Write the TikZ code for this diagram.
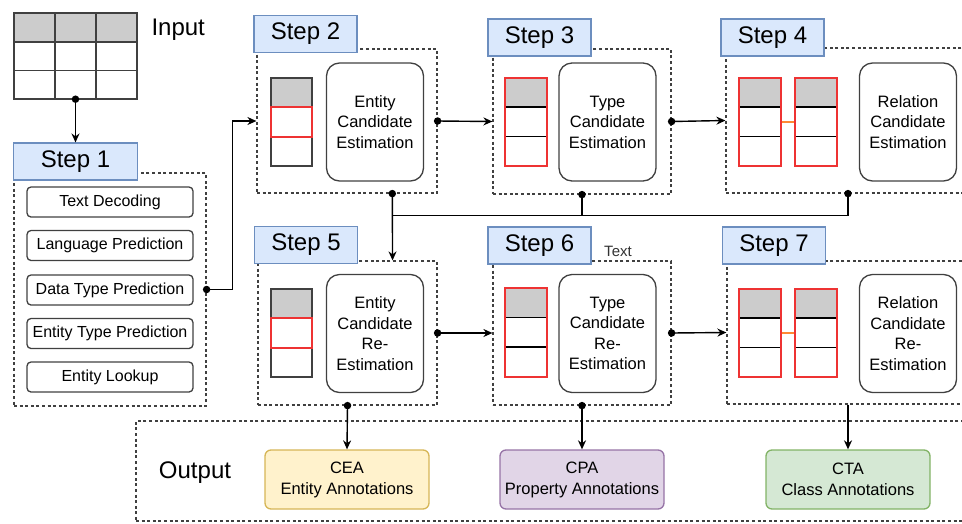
\documentclass[tikz,border=0pt]{standalone}
\usepackage{fontspec}
\setmainfont{Liberation Sans}
\usetikzlibrary{arrows.meta,calc}
\definecolor{stepfill}{HTML}{DAE8FC}
\definecolor{stepline}{HTML}{6C8EBF}
\definecolor{ceafill}{HTML}{FFF2CC}
\definecolor{cealine}{HTML}{D6B656}
\definecolor{cpafill}{HTML}{E1D5E7}
\definecolor{cpaline}{HTML}{9673A6}
\definecolor{ctafill}{HTML}{D5E8D4}
\definecolor{ctaline}{HTML}{82B366}
\definecolor{headgray}{HTML}{CCCCCC}
\definecolor{cellred}{HTML}{EE3333}
\definecolor{linkorange}{HTML}{FF8833}
\definecolor{inktext}{HTML}{222222}

% one column of a table with the selected cell outlined in red
\newcommand{\entitycol}[2]{%
  \fill[headgray] (#1,#2) rectangle ++(41,29.3);
  \draw[colframe] (#1,#2) rectangle ++(41,88);
  \draw[colframe] (#1,#2+29.3) -- ++(41,0);
  \draw[colframe] (#1,#2+58.7) -- ++(41,0);
  \draw[redframe] (#1,#2+29.3) rectangle ++(41,29.4);
}
% one column of a table, the whole column outlined in red
\newcommand{\typecol}[2]{%
  \fill[headgray] (#1,#2) rectangle ++(42,29.5);
  \draw[thin line] (#1,#2+29.5) -- ++(42,0);
  \draw[thin line] (#1,#2+59) -- ++(42,0);
  \draw[redframe] (#1,#2) rectangle ++(42,88.5);
}

\begin{document}
\begin{tikzpicture}[x=1pt,y=-1pt,
  font=\color{inktext},
  steplabel/.style={draw=stepline,fill=stepfill,line width=1.1pt,
    minimum width=103pt,minimum height=37pt,inner sep=0pt,
    font=\fontsize{24}{28}\selectfont},
  frame/.style={draw=black!75,dashed,dash pattern=on 3pt off 2.6pt,
    line width=1.2pt},
  taskbox/.style={draw=black!75,line width=1.3pt,rounded corners=4pt,
    minimum width=166pt,minimum height=30pt,inner sep=0pt,
    font=\fontsize{16}{18}\selectfont},
  procbox/.style={draw=black!75,line width=1.3pt,rounded corners=13pt,
    minimum width=97pt,minimum height=118pt,inner sep=0pt,align=center,
    font=\fontsize{16.5}{20.5}\selectfont},
  outbox/.style={line width=1.3pt,rounded corners=6pt,
    minimum width=164pt,minimum height=59pt,inner sep=0pt,align=center,
    font=\fontsize{16.5}{21}\selectfont},
  colframe/.style={draw=black!75,line width=1.4pt},
  redframe/.style={draw=cellred,line width=2pt},
  thin line/.style={draw=black,line width=1.2pt},
  link/.style={draw=black,line width=1.4pt,-{Stealth[length=9pt,width=8pt]}},
  plain link/.style={draw=black,line width=1.4pt},
  dot/.style={circle,fill=black,inner sep=0pt,minimum size=7.5pt},
]
\useasboundingbox (0,0) rectangle (962,523);
\clip (0,0) rectangle (962,523);

% ---------- input table ----------
\fill[headgray] (14,13) rectangle (137,42);
\foreach \gx in {55,96}
  \draw[colframe] (\gx,13) -- (\gx,99);
\foreach \gy in {42,70.5}
  \draw[colframe] (14,\gy) -- (137,\gy);
\draw[colframe] (14,13) rectangle (137,99);
\node[inner sep=0pt,minimum width=123pt,minimum height=86pt] (input) at (75.5,56) {};
\node[font=\fontsize{24}{28}\selectfont,anchor=west] (inputlab) at (148,30) {Input};

% ---------- dashed step frames ----------
\node[frame,minimum width=192pt,minimum height=233pt] (s1frame) at (110,289.5) {};
\node[frame,minimum width=180pt,minimum height=144pt] (s2frame) at (347,121) {};
\node[frame,minimum width=178pt,minimum height=145pt] (s3frame) at (582,121.5) {};
\node[frame,minimum width=244pt,minimum height=145pt] (s4frame) at (848,120.5) {};
\node[frame,minimum width=179pt,minimum height=144pt] (s5frame) at (347.5,333) {};
\node[frame,minimum width=178pt,minimum height=144pt] (s6frame) at (582,333) {};
\node[frame,minimum width=242pt,minimum height=143pt] (s7frame) at (848,332.5) {};
\node[frame,minimum width=840pt,minimum height=100pt] (outframe) at (556,471) {};

% ---------- step labels ----------
\node[steplabel,minimum width=124pt] (s1lab) at (75.5,161.5) {Step 1};
\node[steplabel] (s2lab) at (305.5,34) {Step 2};
\node[steplabel] (s3lab) at (539.5,37.5) {Step 3};
\node[steplabel] (s4lab) at (772.5,37.5) {Step 4};
\node[steplabel] (s5lab) at (306,245) {Step 5};
\node[steplabel] (s6lab) at (539.5,245.5) {Step 6};
\node[steplabel] (s7lab) at (774,245.5) {Step 7};
\node[font=\fontsize{15}{18}\selectfont,text=black!80] (s6note) at (618,251) {Text};

% ---------- step 1 tasks ----------
\node[taskbox] (t1) at (110,202) {Text Decoding};
\node[taskbox] (t2) at (110,245.5) {Language Prediction};
\node[taskbox] (t3) at (110,290) {Data Type Prediction};
\node[taskbox] (t4) at (110,333.5) {Entity Type Prediction};
\node[taskbox] (t5) at (110,377) {Entity Lookup};

% ---------- processing boxes ----------
\node[procbox] (p2) at (375,122) {Entity\\Candidate\\Estimation};
\node[procbox] (p3) at (607.5,122) {Type\\Candidate\\Estimation};
\node[procbox] (p4) at (908,122) {Relation\\Candidate\\Estimation};
\node[procbox] (p5) at (375,333.5) {Entity\\Candidate\\Re-\\Estimation};
\node[procbox] (p6) at (607.5,333.5) {Type\\Candidate\\Re-\\Estimation};
\node[procbox] (p7) at (908,333.5) {Relation\\Candidate\\Re-\\Estimation};

% ---------- table columns ----------
\entitycol{271}{78}
\entitycol{271}{289}
\typecol{505}{77.5}
\typecol{505}{288}
\draw[linkorange,line width=1.8pt] (781,122) -- (794,122);
\draw[linkorange,line width=1.8pt] (781,333) -- (794,333);
\typecol{739}{77.5}
\typecol{795}{77.5}
\typecol{739}{288.5}
\typecol{795}{288.5}

% ---------- outputs ----------
\node[font=\fontsize{24}{28}\selectfont] (outlab) at (195,473) {Output};
\node[outbox,draw=cealine,fill=ceafill] (cea) at (347,479.5) {CEA\\Entity Annotations};
\node[outbox,draw=cpaline,fill=cpafill] (cpa) at (582,479.5) {CPA\\Property Annotations};
\node[outbox,draw=ctaline,fill=ctafill] (cta) at (848,479.5) {CTA\\Class Annotations};

% ---------- connectors ----------
\draw[link] (input.south) -- (s1lab.north);
\node[dot] at (input.south) {};

\draw[link] (s1frame.east) -- ++(26,0) |- (s2frame.west);
\node[dot] at (s1frame.east) {};

\draw[link] (s2frame.east) -- (s3frame.west);
\node[dot] at (s2frame.east) {};
\draw[link] (s3frame.east) -- (s4frame.west);
\node[dot] at (s3frame.east) {};

\coordinate (s2out) at ($(s2frame.south)!0.5!(s2frame.south east)$);
\coordinate (s5in) at ($(s5frame.north)!0.5!(s5frame.north east)$);
\coordinate (merge) at ($(s2out)+(0,22)$);
\draw[link] (s2out) -- (s5in);
\draw[plain link] (s3frame.south) |- (merge);
\draw[plain link] (s4frame.south) |- (merge);
\node[dot] at (s2out) {};
\node[dot] at (s3frame.south) {};
\node[dot] at (s4frame.south) {};

\draw[link] (s5frame.east) -- (s6frame.west);
\node[dot] at (s5frame.east) {};
\draw[link] (s6frame.east) -- (s7frame.west);
\node[dot] at (s6frame.east) {};

\draw[link] (s5frame.south) -- (cea.north);
\node[dot] at (s5frame.south) {};
\draw[link] (s6frame.south) -- (cpa.north);
\node[dot] at (s6frame.south) {};
\draw[link] (s7frame.south) -- (cta.north);
\end{tikzpicture}
\end{document}
